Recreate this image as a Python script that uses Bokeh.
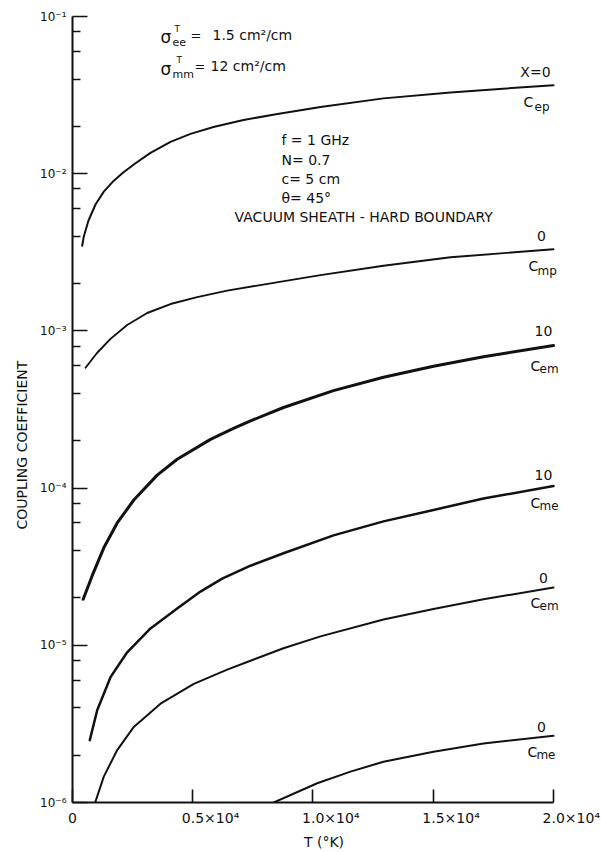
import math
from bokeh.plotting import figure
from bokeh.models import FixedTicker, Label, Range1d
from bokeh.embed import file_html
from bokeh.resources import INLINE

FONT = "DejaVu Sans"
INK = "#111111"

# ---- data (T in K, coupling coefficient) ----
# X = 0, C_ep
T_ep = [403, 470, 665, 956, 1301, 1718, 2121, 2620, 3243, 4075, 4906, 5863, 7110, 8524,
        10312, 12931, 15717, 20000]
C_ep = [3.48e-3, 3.99e-3, 5.04e-3, 6.37e-3, 7.69e-3, 9.03e-3, 1.022e-2, 1.165e-2, 1.358e-2,
        1.594e-2, 1.791e-2, 1.983e-2, 2.197e-2, 2.397e-2, 2.655e-2, 3.014e-2, 3.290e-2, 3.659e-2]
# X = 0, C_mp
T_mp = [541, 1027, 1580, 2274, 3106, 4075, 5185, 6432, 7680, 8927, 10312, 12931, 15717, 20000]
C_mp = [5.83e-4, 7.26e-4, 8.90e-4, 1.091e-3, 1.300e-3, 1.482e-3, 1.641e-3, 1.804e-3,
        1.941e-3, 2.088e-3, 2.262e-3, 2.598e-3, 2.940e-3, 3.304e-3]
# X = 10, C_em
T_em10 = [445, 819, 1301, 1859, 2549, 3522, 4353, 5738, 6694, 7401, 8773, 10852, 12931,
          15010, 17089, 20000]
C_em10 = [1.963e-5, 2.773e-5, 4.17e-5, 6.00e-5, 8.40e-5, 1.209e-4, 1.526e-4, 2.042e-4,
          2.396e-4, 2.675e-4, 3.256e-4, 4.172e-4, 5.077e-4, 5.960e-4, 6.844e-4, 8.07e-4]
# X = 10, C_me
T_me10 = [719, 1027, 1580, 2274, 3243, 4353, 5322, 6224, 7401, 8773, 10852, 12931, 15010,
          17089, 20000]
C_me10 = [2.493e-6, 3.861e-6, 6.27e-6, 9.03e-6, 1.281e-5, 1.715e-5, 2.197e-5, 2.655e-5,
          3.208e-5, 3.85e-5, 5.005e-5, 6.14e-5, 7.26e-5, 8.58e-5, 1.03e-4]
# X = 0, C_em
T_em0 = [956, 1301, 1859, 2549, 3659, 5044, 6432, 7401, 8773, 10312, 12931, 15010, 17089, 20000]
C_em0 = [1.015e-6, 1.461e-6, 2.156e-6, 3.027e-6, 4.25e-6, 5.69e-6, 7.00e-6, 7.98e-6,
         9.57e-6, 1.140e-5, 1.461e-5, 1.702e-5, 1.963e-5, 2.33e-5]
# X = 0, C_me
T_me0 = [8370, 10175, 11559, 12931, 15010, 17089, 20000]
C_me0 = [1.0e-6, 1.325e-6, 1.571e-6, 1.818e-6, 2.102e-6, 2.373e-6, 2.654e-6]

x_ticks = [0, 5000, 10000, 15000, 20000]
x_tick_labels = ["0", "0.5×10⁴", "1.0×10⁴", "1.5×10⁴", "2.0×10⁴"]
y_ticks = [1e-6, 1e-5, 1e-4, 1e-3, 1e-2, 1e-1]
y_tick_labels = ["10⁻⁶", "10⁻⁵", "10⁻⁴", "10⁻³", "10⁻²", "10⁻¹"]

# ---- figure ----
# frame extends a little right of T = 2e4 so the curve labels are not clipped
p = figure(width=601, height=852, y_axis_type="log",
           x_range=Range1d(0, 20915), y_range=Range1d(1e-6, 1e-1),
           output_backend="svg", toolbar_location=None,
           min_border_left=72, min_border_right=26, min_border_top=16, min_border_bottom=46)
p.outline_line_color = None
p.grid.visible = False
p.background_fill_color = "white"
p.border_fill_color = "white"

y_minor = [m * 10.0 ** k for k in range(-6, -1) for m in (2, 4, 6, 8)]
p.yaxis.ticker = FixedTicker(ticks=y_ticks, minor_ticks=y_minor)
p.xaxis.ticker = FixedTicker(ticks=x_ticks, minor_ticks=[])
p.xaxis.bounds = (0, 20000)

pad = "\u2007" * 4
p.xaxis.major_label_overrides = {t: (lab if t == 0 else pad + lab) for t, lab in zip(x_ticks, x_tick_labels)}
p.yaxis.major_label_overrides = {t: lab for t, lab in zip(y_ticks, y_tick_labels)}

for ax in (p.xaxis[0], p.yaxis[0]):
    ax.axis_line_color = INK
    ax.axis_line_width = 2
    ax.major_tick_line_color = INK
    ax.major_tick_line_width = 1.6
    ax.minor_tick_line_color = INK
    ax.minor_tick_line_width = 1.4
    ax.major_tick_out = 0
    ax.minor_tick_out = 0
    ax.major_label_text_font = FONT
    ax.major_label_text_color = INK
    ax.axis_label_text_font = FONT
    ax.axis_label_text_color = INK
    ax.axis_label_text_font_style = "normal"

p.xaxis.major_tick_in = 13
p.xaxis.minor_tick_in = 0
p.xaxis.major_label_text_font_size = "14px"
p.xaxis.major_label_standoff = 7
p.xaxis.axis_label = "T (°K)"
p.xaxis.axis_label_text_font_size = "14px"
p.xaxis.axis_label_standoff = 5

p.yaxis.major_tick_in = 15
p.yaxis.minor_tick_in = 8
p.yaxis.major_label_text_font_size = "12px"
p.yaxis.major_label_standoff = 6
p.yaxis.axis_label = "COUPLING COEFFICIENT" + "\u2007" * 8
p.yaxis.axis_label_text_font_size = "14px"
p.yaxis.axis_label_standoff = 7

# ---- curves ----
series = [
    (T_ep, C_ep, 2.0),
    (T_mp, C_mp, 1.9),
    (T_em10, C_em10, 3.0),
    (T_me10, C_me10, 2.5),
    (T_em0, C_em0, 2.0),
    (T_me0, C_me0, 2.0),
]
for t, c, w in series:
    p.line(t, c, line_color=INK, line_width=w, line_join="round", line_cap="round")


def note(x, y, text, size, align="left"):
    p.add_layout(Label(x=x, y=y, text=text, text_font=FONT, text_font_size=f"{size}px",
                       text_align=align, text_baseline="middle", text_color=INK))


# sigma lines
note(3660, 0.0737, "σ", 17)
note(4240, 0.0827, "T", 9)
note(4160, 0.0685, "ee", 11)
note(4910, 0.0758, "=", 13)
note(5820, 0.0758, "1.5 cm²/cm", 14)
note(3660, 0.0462, "σ", 17)
note(4320, 0.0527, "T", 9)
note(4160, 0.0429, "mm", 11)
note(5070, 0.0483, "=", 13)
note(5740, 0.0483, "12 cm²/cm", 14)

# parameters
note(8690, 0.01641, "f = 1 GHz", 14)
note(8690, 0.01227, "N= 0.7", 14)
note(8690, 0.00930, "c= 5 cm", 14)
note(8690, 0.00705, "θ= 45°", 14)
note(6740, 0.00527, "VACUUM SHEATH - HARD BOUNDARY", 14)

# curve labels
note(19250, 0.0442, "X=0", 14, "center")
note(18750, 0.02855, "C", 14)
note(19210, 0.02655, "ep", 12)
note(19500, 3.99e-3, "0", 14, "center")
note(18960, 2.58e-3, "C", 14)
note(19335, 2.40e-3, "mp", 12)
note(19580, 1.0e-3, "10", 14, "center")
note(19040, 6.00e-4, "C", 14)
note(19420, 5.75e-4, "em", 12)
note(19580, 1.209e-4, "10", 14, "center")
note(19040, 8.04e-5, "C", 14)
note(19420, 7.69e-5, "me", 12)
note(19580, 2.69e-5, "0", 14, "center")
note(19040, 1.87e-5, "C", 14)
note(19420, 1.79e-5, "em", 12)
note(19500, 3.03e-6, "0", 14, "center")
note(18920, 2.10e-6, "C", 14)
note(19290, 2.01e-6, "me", 12)

open("out.html", "w").write(file_html(p, INLINE))
